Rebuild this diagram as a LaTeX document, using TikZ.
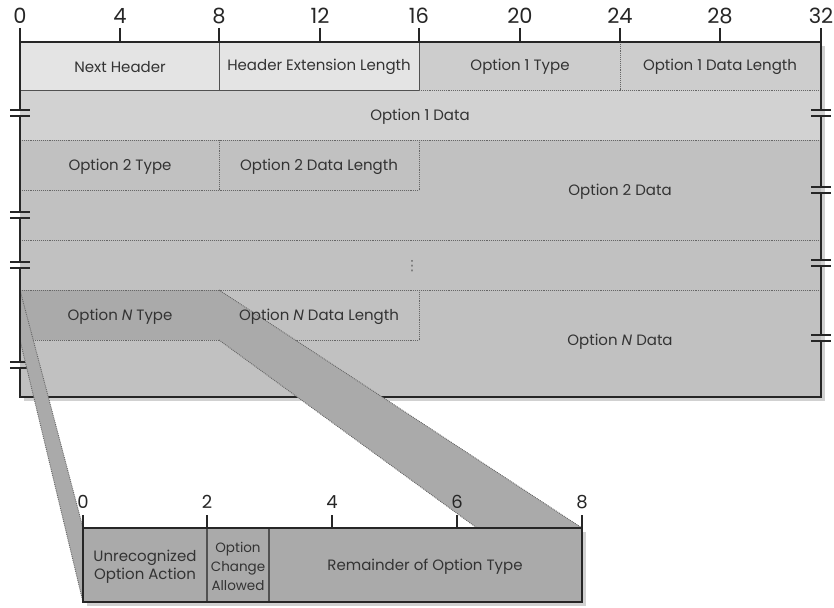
\documentclass[tikz,border=0pt]{standalone}
\usepackage{fontspec}
\setmainfont{Poppins}
\newfontfamily\symfont{DejaVu Sans}
\definecolor{cLight}{HTML}{E4E4E4}
\definecolor{cOptA}{HTML}{CDCDCD}
\definecolor{cOptB}{HTML}{D2D2D2}
\definecolor{cMid}{HTML}{C1C1C1}
\definecolor{cDark}{HTML}{AAAAAA}
\definecolor{cInk}{HTML}{262626}
\begin{document}
\begin{tikzpicture}[x=1pt,y=-1pt,
  border/.style={line width=1.8pt, draw=cInk},
  thinline/.style={line width=0.9pt, draw=cInk!80},
  dotline/.style={densely dotted, line width=0.9pt, draw=black!60},
  tickline/.style={line width=1.5pt, draw=cInk},
  brkline/.style={line width=1.4pt, draw=cInk},
  lbl/.style={font=\fontsize{15}{17}\selectfont, text=black!80, inner sep=0pt},
  slbl/.style={font=\fontsize{15}{17}\selectfont, text=black!80, inner sep=0pt, align=center},
  tlbl/.style={font=\fontsize{13.5}{19}\selectfont, text=black!80, inner sep=0pt, align=center},
  numA/.style={font=\fontsize{21}{22}\selectfont, text=cInk, inner sep=0pt},
  numB/.style={font=\fontsize{18}{20}\selectfont, text=cInk, inner sep=0pt}
]
\useasboundingbox (0,0) rectangle (834,607);

% shadows
\fill[black!18] (24,46) rectangle (825,401);
\fill[black!18] (87,532) rectangle (586,606);

% fills
\fill[cMid] (20,42) rectangle (821,397);
\fill[cLight] (20,42) rectangle (419,90);
\fill[cOptA] (419,42) rectangle (821,90);
\fill[cOptB] (20,90) rectangle (821,140);
\fill[cDark] (20,290) rectangle (219,340);

% internal solid lines
\draw[thinline] (20,90) -- (419,90) (219,42) -- (219,90) (419,42) -- (419,90);
% dotted lines
\draw[dotline] (419,90) -- (821,90) (620,42) -- (620,90);
\draw[dotline] (20,140) -- (821,140) (219,140) -- (219,190) (419,140) -- (419,190) (20,190) -- (419,190);
\draw[dotline] (20,240) -- (821,240);
\draw[dotline] (20,290) -- (821,290) (219,290) -- (219,340) (419,290) -- (419,340) (20,340) -- (419,340);

% top border and ticks
\draw[border] (20,42) -- (821,42);
\foreach \x in {120,219,320,419,520,620,720} \draw[tickline] (\x,28) -- (\x,42);

% left/right/bottom border with breaks
\draw[border] (20,28) -- (20,110) (20,116) -- (20,212) (20,218) -- (20,262) (20,268) -- (20,362)
  (20,368) -- (20,397) -- (821,397) -- (821,341) (821,335) -- (821,266) (821,260) -- (821,193)
  (821,187) -- (821,116) (821,110) -- (821,28);
\foreach \yy in {113,215,265,365} \draw[brkline] (10,\yy-3) -- (30,\yy-3) (10,\yy+3) -- (30,\yy+3);
\foreach \yy in {113,190,263,338} \draw[brkline] (811,\yy-3) -- (831,\yy-3) (811,\yy+3) -- (831,\yy+3);

% small box
\fill[cDark] (83,528) rectangle (582,602);

% funnel bands
\fill[cDark] (20,290) -- (83,528) -- (83,602) -- (20,340) -- cycle;
\draw[dotline] (20,290) -- (83,528) (20,340) -- (83,602);
\fill[cDark] (219,290) -- (582,528) -- (477,528) -- (219,340) -- cycle;
\draw[dotline] (219,290) -- (582,528) (219,340) -- (477,528);
\draw[border] (20,268) -- (20,362) (20,368) -- (20,397);

% small box lines
\draw[thinline, line width=1.2pt] (207,528) -- (207,602) (269,528) -- (269,602);
\draw[border] (83,515) -- (83,602) -- (582,602) -- (582,515) (83,528) -- (582,528);
\foreach \x in {207,332,457} \draw[tickline] (\x,515) -- (\x,528);

% bit numbers
\foreach \x/\t [count=\i] in {20/0,120/4,219/8,320/12,419/16,520/20,620/24,720/28,821/32}
  \node[numA] (n\i) at (\x,16) {\t};
\foreach \x/\t [count=\i] in {83/0,207/2,332/4,457/6,582/8}
  \node[numB] (m\i) at (\x,502) {\t};

% labels
\node[lbl] (nh) at (120,67) {Next Header};
\node[lbl] (hel) at (319,67) {Header Extension Length};
\node[lbl] (o1t) at (520,67) {Option 1 Type};
\node[lbl] (o1l) at (720,67) {Option 1 Data Length};
\node[lbl] (o1d) at (420,117) {Option 1 Data};
\node[lbl] (o2t) at (120,167) {Option 2 Type};
\node[lbl] (o2l) at (319,167) {Option 2 Data Length};
\node[lbl] (o2d) at (620,192) {Option 2 Data};
\node[font=\symfont\fontsize{14}{14}\selectfont, text=black!60, inner sep=0pt] (vd) at (412,266) {⋮};
\node[lbl] (ont) at (120,317) {Option \textit{N} Type};
\node[lbl] (onl) at (319,317) {Option \textit{N} Data Length};
\node[lbl] (ond) at (620,342) {Option \textit{N} Data};

\node[slbl] (uoa) at (145,567) {Unrecognized\\[1pt]Option Action};
\node[tlbl] (oca) at (238,566) {Option\\Change\\Allowed};
\node[slbl] (rot) at (425,567) {Remainder of Option Type};
\end{tikzpicture}
\end{document}
